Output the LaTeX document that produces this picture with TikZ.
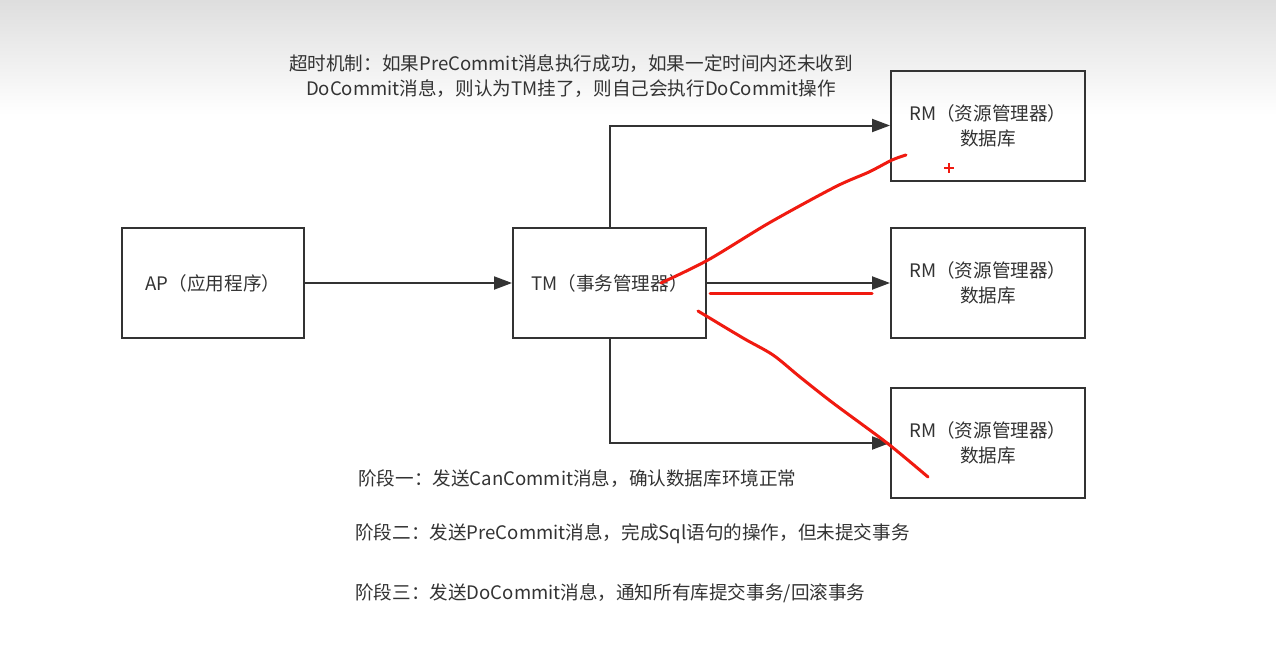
\documentclass[tikz,border=0pt]{standalone}
\usepackage{fontspec}
\setmainfont{Noto Sans CJK SC}
\usepackage{tikz}
\usetikzlibrary{arrows.meta,positioning}
\definecolor{inkgray}{HTML}{333333}
\definecolor{penred}{HTML}{F01A10}
\tikzset{
  procbox/.style={
    draw=inkgray,
    line width=2pt,
    align=center,
    text=inkgray,
    inner sep=0pt,
    minimum height=110pt
  },
  notetext/.style={
    text=inkgray,
    anchor=west,
    inner sep=0pt
  },
  flowarrow/.style={-{Triangle[length=18pt,width=13pt]}, line width=2pt, draw=inkgray},
  penmark/.style={draw=penred, line width=3pt, line cap=round, line join=round}
}

\begin{document}
\begin{tikzpicture}[x=1pt,y=-1pt,font=\fontsize{18.6}{25}\selectfont]
  \useasboundingbox (0,0) rectangle (1276,661);
  \fill[white] (0,0) rectangle (1276,661);
  \shade[top color=black!13,bottom color=white] (0,0) rectangle (1276,115);

  \node[procbox,minimum width=182pt] (ap) at (213,283) {AP（应用程序）};
  \node[procbox,minimum width=193pt] (tm) at (609.5,283) {TM（事务管理器）};
  \node[procbox,minimum width=194pt] (rmtop) at (988,125.5) {RM（资源管理器）\\数据库};
  \node[procbox,minimum width=194pt] (rmmid) at (988,283) {RM（资源管理器）\\数据库};
  \node[procbox,minimum width=194pt] (rmbot) at (988,443) {RM（资源管理器）\\数据库};

  \draw[flowarrow] (ap) -- (tm);
  \draw[flowarrow] (tm) -- (rmmid);
  \draw[flowarrow] (tm.north) |- (rmtop.west);
  \draw[flowarrow] (tm.south) |- (rmbot.west);

  \node[text=inkgray,align=center] (timeout) at (571,76)
    {超时机制：如果PreCommit消息执行成功，如果一定时间内还未收到\\DoCommit消息，则认为TM挂了，则自己会执行DoCommit操作};
  \node[notetext] (phaseone) at (358,479) {阶段一：发送CanCommit消息，确认数据库环境正常};
  \node[notetext] (phasetwo) at (355,534) {阶段二：发送PreCommit消息，完成Sql语句的操作，但未提交事务};
  \node[notetext] (phasethree) at (355,593) {阶段三：发送DoCommit消息，通知所有库提交事务/回滚事务};

  \draw[penmark] plot[smooth] coordinates {(661,283) (708,260) (769,223) (835,187) (869,172) (892,160) (906,155)};
  \draw[penred,line width=1.5pt] (944,168) -- (954,168) (949,163) -- (949,173);
  \draw[penmark] (710,293) -- (872,293);
  \draw[penmark] plot[smooth] coordinates {(698,311) (743,338) (773,355) (800,377) (833,403) (887,443) (928,477)};
\end{tikzpicture}
\end{document}
